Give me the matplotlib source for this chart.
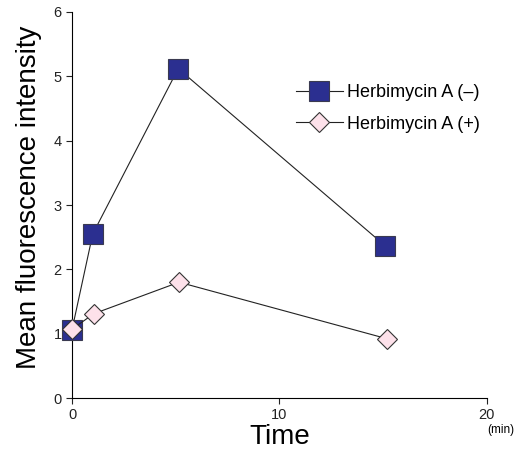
import matplotlib.pyplot as plt

plt.rcParams['font.family'] = ['Liberation Sans', 'DejaVu Sans']

tiempo = [0, 1, 5.12, 15.08]
sin_herb = [1.06, 2.55, 5.12, 2.37]
tiempo_herb = [0, 1.05, 5.16, 15.2]
con_herb = [1.07, 1.31, 1.80, 0.92]

nombres = ["Herbimycin A (\u2013)", "Herbimycin A (+)"]

fig = plt.figure(figsize=(5.18, 4.54), dpi=100)
ax = fig.add_axes([0.139, 0.1233, 0.801, 0.8503])

ax.plot(tiempo, sin_herb, color='#222222', linewidth=0.8,
        marker='s', markersize=14, markerfacecolor='#2b2f90',
        markeredgecolor='#3a3a50', markeredgewidth=0.8,
        label=nombres[0], clip_on=False, zorder=3)
ax.plot(tiempo_herb, con_herb, color='#222222', linewidth=0.8,
        marker='D', markersize=10.5, markerfacecolor='#fde1ea',
        markeredgecolor='#333333', markeredgewidth=0.8,
        label=nombres[1], clip_on=False, zorder=4)

ax.set_xlim(0, 20)
ax.set_ylim(0, 6)
ax.set_xticks([0, 10, 20])
ax.set_yticks(range(0, 7))
ax.spines['top'].set_visible(False)
ax.spines['right'].set_visible(False)
ax.spines['left'].set_linewidth(0.8)
ax.spines['bottom'].set_linewidth(0.8)
ax.tick_params(direction='out', length=4, width=0.8, labelsize=10.5, colors='#222222')

ax.set_xlabel("Time", fontsize=20, labelpad=1)
ax.set_ylabel("Mean fluorescence intensity", fontsize=20)
ax.yaxis.set_label_coords(-0.072, 0.52)
ax.text(20.0, -0.5, "(min)", fontsize=8.5, va='center')

ax.legend(loc='center left', bbox_to_anchor=(0.5, 0.75), frameon=False,
          fontsize=13, handlelength=2.6, labelspacing=0.8, handletextpad=0.25)

fig.savefig("out.png", dpi=100)
